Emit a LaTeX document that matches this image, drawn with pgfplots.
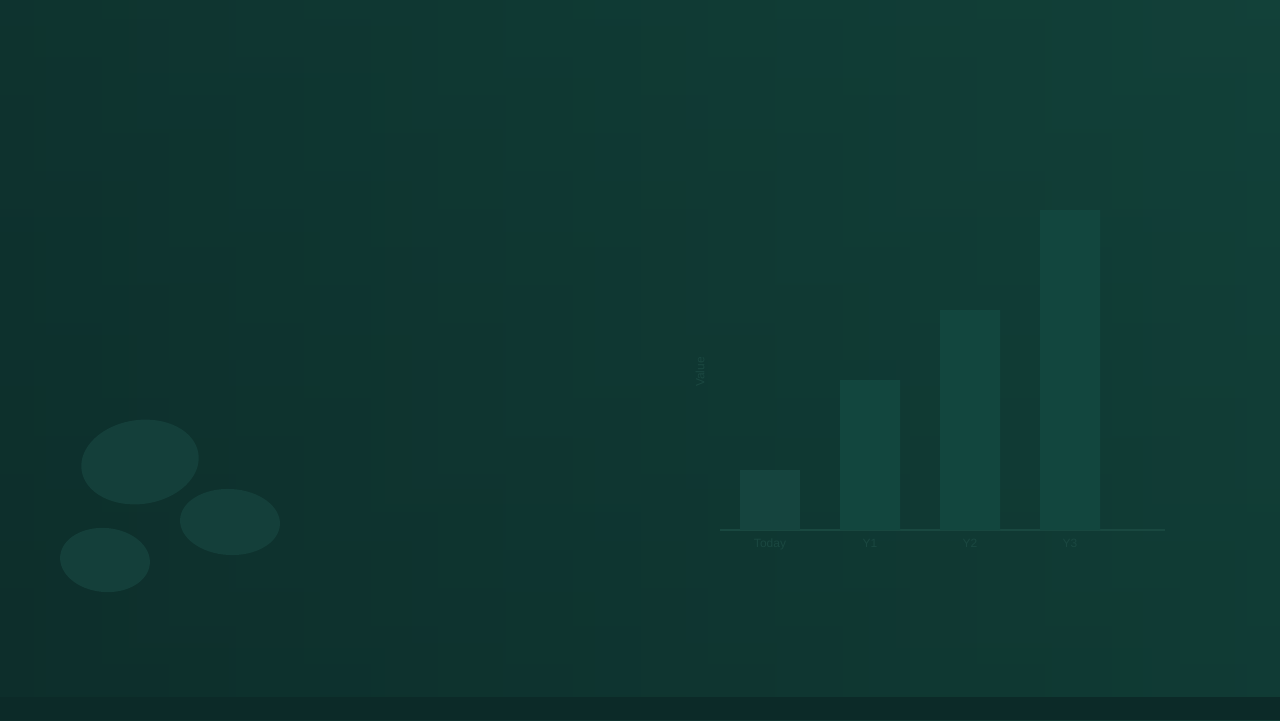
\documentclass[border=0pt]{standalone}
\usepackage{pgfplots}
\pgfplotsset{compat=1.18}
\usepackage{fontspec}
\setmainfont{Liberation Sans}
\definecolor{bgL}{HTML}{0D2E2B}
\definecolor{bgR}{HTML}{124139}
\definecolor{bgB}{HTML}{0C2A28}
\definecolor{barc}{HTML}{12463E}
\definecolor{barA}{HTML}{15443E}
\definecolor{axc}{HTML}{194840}
\definecolor{txt}{HTML}{1A4740}
\definecolor{blob}{HTML}{143F3A}
\begin{document}
\begin{tikzpicture}[x=1pt,y=1pt]
% background (1px = 0.5pt)
\shade[left color=bgL, right color=bgR] (0,0) rectangle (640,360);
\shade[top color=bgR, bottom color=bgL, opacity=0.3] (0,0) rectangle (640,360);
\fill[bgB] (0,0) rectangle (640,11.5);
% decorative blobs
\fill[blob] (70,129) ellipse [x radius=29.5, y radius=21, rotate=8];
\fill[blob] (115,99) ellipse [x radius=25, y radius=16.5, rotate=-3];
\fill[blob] (52.5,80) ellipse [x radius=22.5, y radius=16, rotate=-5];
\begin{axis}[
  at={(385pt,95pt)}, anchor=origin,
  scale only axis, width=222.5pt, height=170pt,
  xmin=-0.5, xmax=3.95, ymin=0, ymax=340,
  axis x line*=bottom, axis y line=none,
  x axis line style={draw=axc, line width=0.6pt, -},
  xtick={0,1,2,3}, xticklabels={Today,Y1,Y2,Y3},
  major tick length=0pt,
  tick label style={font=\fontsize{6}{7}\selectfont, text=txt},
  xticklabel style={yshift=-1pt},
  clip=false,
]
\addplot[ybar, bar width=30pt, fill=barc, draw=none] coordinates {(1,150) (2,220) (3,320)};
\addplot[ybar, bar width=30pt, fill=barA, draw=none] coordinates {(0,60)};
\node[font=\fontsize{6}{7}\selectfont, text=txt, rotate=90] at (axis cs:-0.7,158) {Value};
\end{axis}
\end{tikzpicture}
\end{document}
